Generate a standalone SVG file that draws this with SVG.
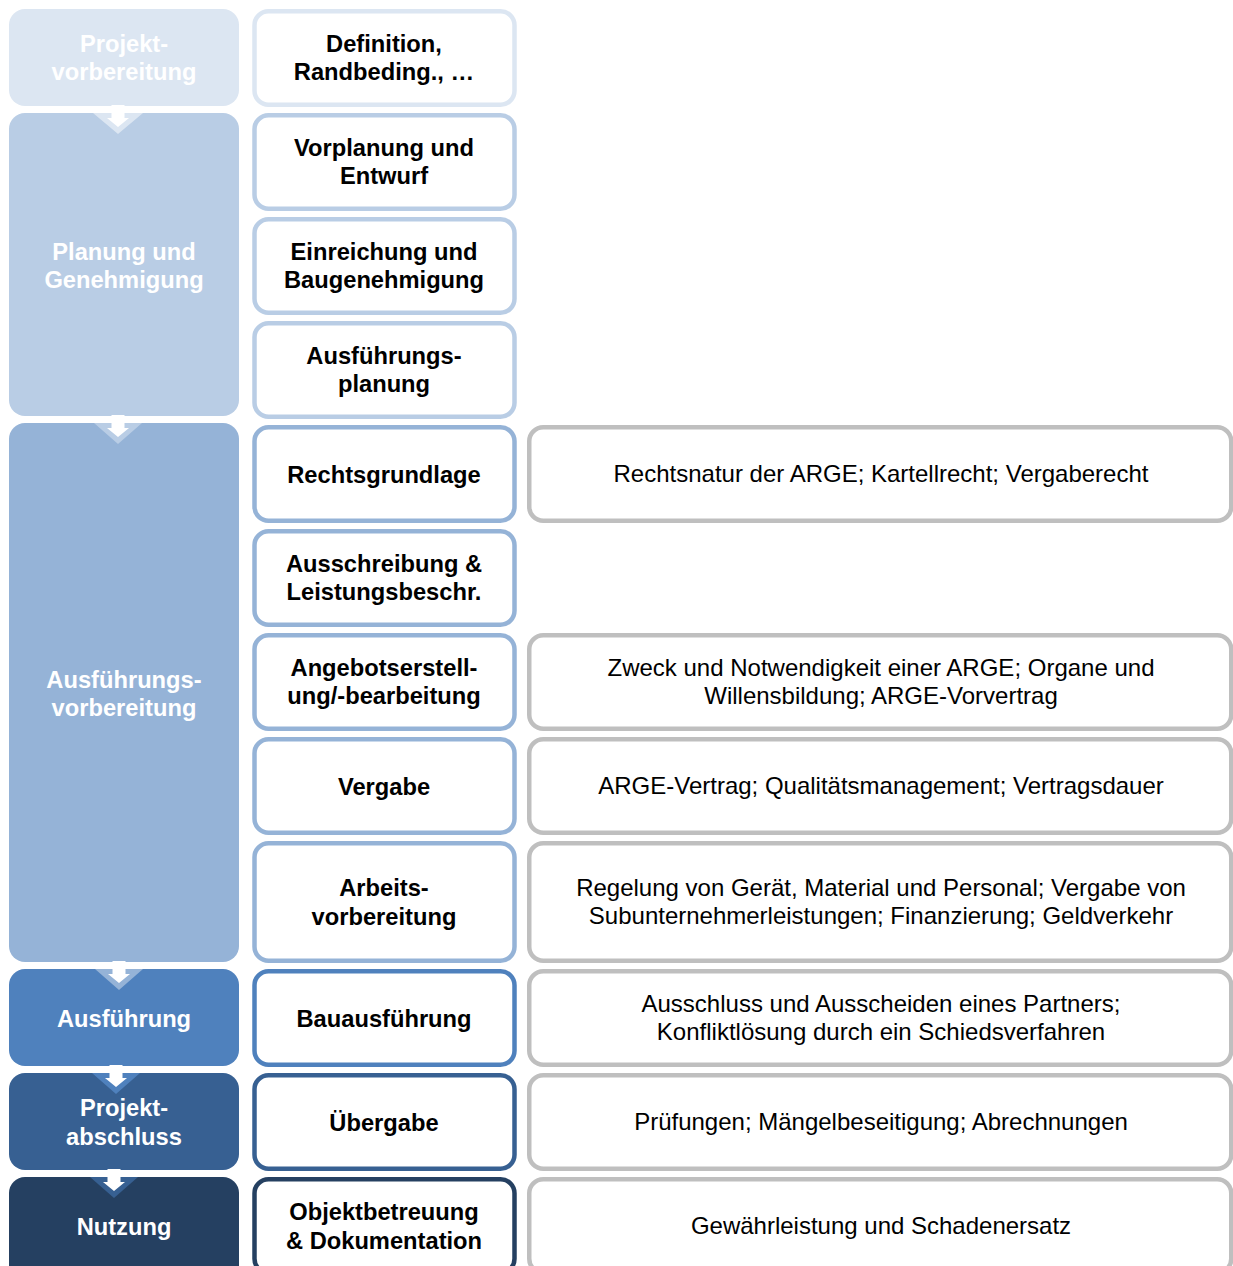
<svg xmlns="http://www.w3.org/2000/svg" width="1233" height="1266" viewBox="0 0 1233 1266">
<style>
  .ph { font-family: "Liberation Sans", Arial, sans-serif; font-weight: bold; font-size: 23.7px; fill: #ffffff; text-anchor: middle; }
  .mid { font-family: "Liberation Sans", Arial, sans-serif; font-weight: bold; font-size: 23.7px; fill: #000000; text-anchor: middle; }
  .rt { font-family: "Liberation Sans", Arial, sans-serif; font-size: 24px; fill: #000000; text-anchor: middle; }
  .mbox { fill: #ffffff; stroke-width: 4.5; }
  .rbox { fill: #ffffff; stroke: #bfbfbf; stroke-width: 4.5; }
  .c1 { fill: #dce6f2; } .c2 { fill: #b9cde5; } .c3 { fill: #95b3d7; } .c4 { fill: #4f81bd; } .c5 { fill: #376092; } .c6 { fill: #254061; }
  .s1 { stroke: #dce6f2; } .s2 { stroke: #b9cde5; } .s3 { stroke: #95b3d7; } .s4 { stroke: #4f81bd; } .s5 { stroke: #376092; } .s6 { stroke: #254061; }
</style>
<rect width="1233" height="1266" fill="#ffffff"/>

<!-- Phase column -->
<g id="phase-projektvorbereitung">
  <rect class="c1" x="9" y="9" width="230" height="97" rx="16"/>
  <text class="ph" x="124" y="52">Projekt-</text>
  <text class="ph" x="124" y="80">vorbereitung</text>
</g>
<g id="phase-planung">
  <rect class="c2" x="9" y="113" width="230" height="303" rx="16"/>
  <text class="ph" x="124" y="260">Planung und</text>
  <text class="ph" x="124" y="288">Genehmigung</text>
</g>
<g id="phase-ausfuehrungsvorbereitung">
  <rect class="c3" x="9" y="423" width="230" height="539" rx="16"/>
  <text class="ph" x="124" y="688">Ausführungs-</text>
  <text class="ph" x="124" y="716">vorbereitung</text>
</g>
<g id="phase-ausfuehrung">
  <rect class="c4" x="9" y="969" width="230" height="97" rx="16"/>
  <text class="ph" x="124" y="1027">Ausführung</text>
</g>
<g id="phase-projektabschluss">
  <rect class="c5" x="9" y="1073" width="230" height="97" rx="16"/>
  <text class="ph" x="124" y="1116">Projekt-</text>
  <text class="ph" x="124" y="1145">abschluss</text>
</g>
<g id="phase-nutzung">
  <rect class="c6" x="9" y="1177" width="230" height="110" rx="16"/>
  <text class="ph" x="124" y="1235">Nutzung</text>
</g>

<!-- Connectors (phase arrows) -->
<g id="connectors">
  <polygon class="c1" points="93,113 143,113 118,134"/>
  <path fill="#ffffff" d="M111.5,105 H124.5 V118 H129 L118,127 L107,118 H111.5 Z"/>

  <polygon class="c2" points="94,423 142,423 118,444"/>
  <path fill="#ffffff" d="M111.5,415 H124.5 V428 H129 L118,437 L107,428 H111.5 Z"/>

  <polygon class="c3" points="95,969 143,969 119,990"/>
  <path fill="#ffffff" d="M112.5,961 H125.5 V974 H130 L119,983 L108,974 H112.5 Z"/>

  <polygon class="c4" points="92,1073 140,1073 116,1094"/>
  <path fill="#ffffff" d="M109.5,1065 H122.5 V1078 H127 L116,1087 L105,1078 H109.5 Z"/>

  <polygon class="c5" points="90,1177 138,1177 114,1198"/>
  <path fill="#ffffff" d="M107.5,1169 H120.5 V1182 H125 L114,1191 L103,1182 H107.5 Z"/>
</g>

<!-- Middle column -->
<g id="m1"><rect class="mbox s1" x="254.5" y="11.25" width="260" height="93.5" rx="14"/>
  <text class="mid" x="384" y="52">Definition,</text><text class="mid" x="384" y="80">Randbeding., …</text></g>
<g id="m2"><rect class="mbox s2" x="254.5" y="115.25" width="260" height="93.5" rx="14"/>
  <text class="mid" x="384" y="156">Vorplanung und</text><text class="mid" x="384" y="184">Entwurf</text></g>
<g id="m3"><rect class="mbox s2" x="254.5" y="219.25" width="260" height="93.5" rx="14"/>
  <text class="mid" x="384" y="260">Einreichung und</text><text class="mid" x="384" y="288">Baugenehmigung</text></g>
<g id="m4"><rect class="mbox s2" x="254.5" y="323.25" width="260" height="93.5" rx="14"/>
  <text class="mid" x="384" y="364">Ausführungs-</text><text class="mid" x="384" y="392">planung</text></g>
<g id="m5"><rect class="mbox s3" x="254.5" y="427.25" width="260" height="93.5" rx="14"/>
  <text class="mid" x="384" y="483">Rechtsgrundlage</text></g>
<g id="m6"><rect class="mbox s3" x="254.5" y="531.25" width="260" height="93.5" rx="14"/>
  <text class="mid" x="384" y="572">Ausschreibung &amp;</text><text class="mid" x="384" y="600">Leistungsbeschr.</text></g>
<g id="m7"><rect class="mbox s3" x="254.5" y="635.25" width="260" height="93.5" rx="14"/>
  <text class="mid" x="384" y="676">Angebotserstell-</text><text class="mid" x="384" y="704">ung/-bearbeitung</text></g>
<g id="m8"><rect class="mbox s3" x="254.5" y="739.25" width="260" height="93.5" rx="14"/>
  <text class="mid" x="384" y="795">Vergabe</text></g>
<g id="m9"><rect class="mbox s3" x="254.5" y="843.25" width="260" height="117.5" rx="14"/>
  <text class="mid" x="384" y="896">Arbeits-</text><text class="mid" x="384" y="925">vorbereitung</text></g>
<g id="m10"><rect class="mbox s4" x="254.5" y="971.25" width="260" height="93.5" rx="14"/>
  <text class="mid" x="384" y="1027">Bauausführung</text></g>
<g id="m11"><rect class="mbox s5" x="254.5" y="1075.25" width="260" height="93.5" rx="14"/>
  <text class="mid" x="384" y="1131">Übergabe</text></g>
<g id="m12"><rect class="mbox s6" x="254.5" y="1179.25" width="260" height="93.5" rx="14"/>
  <text class="mid" x="384" y="1220">Objektbetreuung</text><text class="mid" x="384" y="1249">&amp; Dokumentation</text></g>

<!-- Right column -->
<g id="r5"><rect class="rbox" x="529.25" y="427.25" width="702" height="93.5" rx="14"/>
  <text class="rt" x="881" y="482">Rechtsnatur der ARGE; Kartellrecht; Vergaberecht</text></g>
<g id="r7"><rect class="rbox" x="529.25" y="635.25" width="702" height="93.5" rx="14"/>
  <text class="rt" x="881" y="676">Zweck und Notwendigkeit einer ARGE; Organe und</text>
  <text class="rt" x="881" y="704">Willensbildung; ARGE-Vorvertrag</text></g>
<g id="r8"><rect class="rbox" x="529.25" y="739.25" width="702" height="93.5" rx="14"/>
  <text class="rt" x="881" y="794">ARGE-Vertrag; Qualitätsmanagement; Vertragsdauer</text></g>
<g id="r9"><rect class="rbox" x="529.25" y="843.25" width="702" height="117.5" rx="14"/>
  <text class="rt" x="881" y="896">Regelung von Gerät, Material und Personal; Vergabe von</text>
  <text class="rt" x="881" y="924">Subunternehmerleistungen; Finanzierung; Geldverkehr</text></g>
<g id="r10"><rect class="rbox" x="529.25" y="971.25" width="702" height="93.5" rx="14"/>
  <text class="rt" x="881" y="1012">Ausschluss und Ausscheiden eines Partners;</text>
  <text class="rt" x="881" y="1040">Konfliktlösung durch ein Schiedsverfahren</text></g>
<g id="r11"><rect class="rbox" x="529.25" y="1075.25" width="702" height="93.5" rx="14"/>
  <text class="rt" x="881" y="1130">Prüfungen; Mängelbeseitigung; Abrechnungen</text></g>
<g id="r12"><rect class="rbox" x="529.25" y="1179.25" width="702" height="93.5" rx="14"/>
  <text class="rt" x="881" y="1234">Gewährleistung und Schadenersatz</text></g>
</svg>
